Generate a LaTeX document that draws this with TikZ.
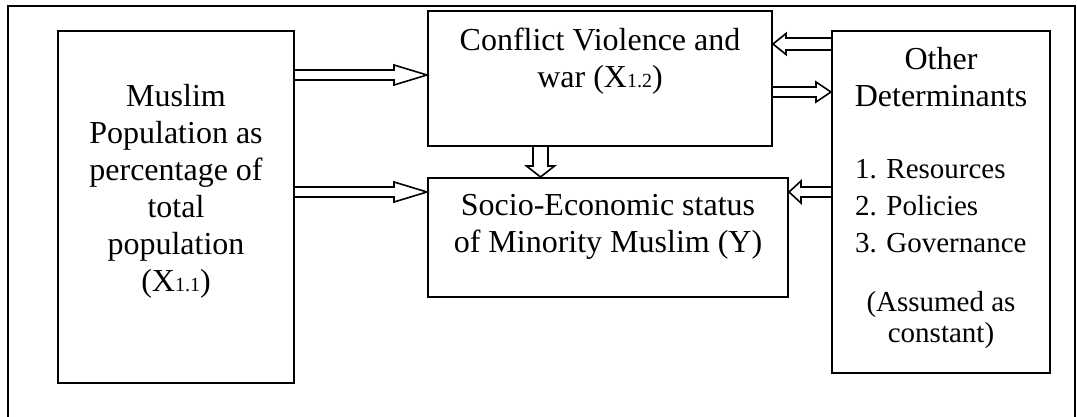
\documentclass[tikz,border=0pt]{standalone}
\usepackage{fontspec}
\setmainfont{Liberation Serif}
\usepackage{tikz}
\usetikzlibrary{positioning,calc}
\newcommand{\ix}[1]{{\fontsize{10pt}{12pt}\selectfont #1}}
\newcommand{\sm}[1]{{\fontsize{14.5pt}{18.5pt}\selectfont #1}}

\begin{document}
\begin{tikzpicture}[x=0.5pt,y=-0.5pt,
  box/.style={draw,line width=1pt,inner sep=0pt},
  txt/.style={align=center,inner sep=0pt,outer sep=0pt,font=\fontsize{16pt}{18.5pt}\selectfont},
  % shaft half width, head half width, head length
  hollow/.style n args={3}{line width=0.8pt,to path={let \p1=(\tikztostart),\p2=(\tikztotarget),
    \n1={atan2(\y2-\y1,\x2-\x1)},\n2={veclen(\x2-\x1,\y2-\y1)} in
    (\p1) ++({\n1+90}:#1) -- ++({\n1}:{\n2-#3}) -- ++({\n1+90}:{#2-#1}) -- (\p2)
    -- ($(\p2)+({\n1+180}:#3)+({\n1-90}:#2)$) -- ++({\n1+90}:{#2-#1}) -- ++({\n1+180}:{\n2-#3})}}]
\useasboundingbox (0,0) rectangle (1077,417);
\draw[line width=1pt](8,417)--(8,6)--(1075,6)--(1075,417);

\node[box,minimum width=118pt,minimum height=176pt](pop) at (176,207){};
\node[box,minimum width=172pt,minimum height=67.5pt](conflict) at (600,78.5){};
\node[box,minimum width=180pt,minimum height=59.5pt](status) at (608,237.5){};
\node[box,minimum width=109pt,minimum height=171pt](other) at (941,202){};

\node[txt,below=27pt of pop.north](poptxt){Muslim\\Population as\\percentage of\\total\\population\\(X\ix{1.1})};
\node[txt,below=9pt of conflict.north](conflicttxt){Conflict Violence and\\war (X\ix{1.2})};
\node[txt,below=8.5pt of status.north](statustxt){Socio-Economic status\\of Minority Muslim (Y)};
\node[txt,below=8.5pt of other.north](othertxt){Other\\Determinants\\[17.5pt]
  \makebox[86pt][l]{\sm{1. Resources}}\\\makebox[86pt][l]{\sm{2. Policies}}\\\makebox[86pt][l]{\sm{3. Governance}}\\[11pt]
  \sm{(Assumed as}\\[-3pt]\sm{constant)}};

\coordinate(upper) at (0,75);
\coordinate(lower) at (0,192);
\coordinate(back) at (0,44);
\coordinate(forth) at (0,92);
\coordinate(mid) at (540.5,0);

\draw[hollow={2.5pt}{5pt}{16.5pt}](pop.east|-upper) to (conflict.west|-upper);
\draw[hollow={2.5pt}{5pt}{16.5pt}](pop.east|-lower) to (status.west|-lower);
\draw[hollow={3.75pt}{7pt}{5.5pt}](conflict.south-|mid) to (status.north-|mid);
\draw[hollow={3pt}{5.25pt}{6.5pt}](other.west|-back) to (conflict.east|-back);
\draw[hollow={2.5pt}{5pt}{7.5pt}](conflict.east|-forth) to (other.west|-forth);
\draw[hollow={2.5pt}{5.5pt}{6pt}](other.west|-lower) to (status.east|-lower);
\end{tikzpicture}
\end{document}
